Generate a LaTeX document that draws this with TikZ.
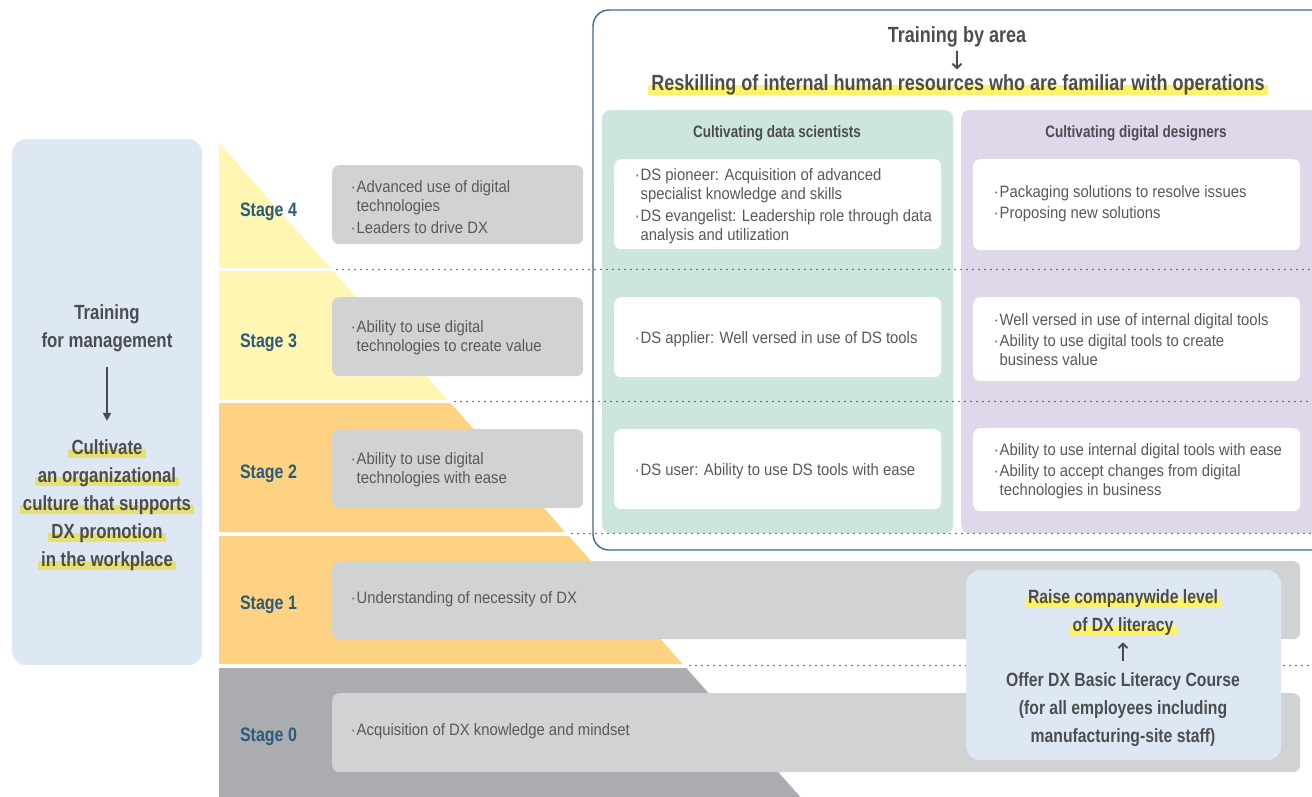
\documentclass[tikz,border=0pt]{standalone}
\usepackage{fontspec}
\setmainfont[FakeStretch=0.82]{Liberation Sans}
\newfontfamily\bodyfont[FakeStretch=0.9]{Liberation Sans}
\newfontfamily\arrfont{DejaVu Sans}
\usetikzlibrary{arrows.meta}
\definecolor{leftblue}{HTML}{DDE8F4}
\definecolor{pyel}{HTML}{FFF6B4}
\definecolor{porg}{HTML}{FDD283}
\definecolor{pgray}{HTML}{ABACB0}
\definecolor{boxgray}{HTML}{D1D2D4}
\definecolor{stageblue}{HTML}{2A5B7C}
\definecolor{darktxt}{HTML}{4D4D4F}
\definecolor{bodytxt}{HTML}{595959}
\definecolor{teal}{HTML}{CCE6DC}
\definecolor{purp}{HTML}{DFD7EA}
\definecolor{framec}{HTML}{3F6787}
\definecolor{dotgray}{HTML}{5A5A5A}
\definecolor{hly}{HTML}{FFF26B}
\definecolor{hll}{HTML}{E6E070}
\pgfdeclarelayer{hl}
\pgfdeclarelayer{top}
\pgfsetlayers{main,hl,top}
\newcommand\bu{\makebox[6.5pt][c]{·}}
\newcommand\ind{\hspace*{6.5pt}}
\begin{document}
\begin{tikzpicture}[x=1pt,y=-1pt,
  body/.style={font=\bodyfont\fontsize{16.5}{19}\selectfont, text=bodytxt, align=left, inner sep=0pt, anchor=west},
  gbox/.style={fill=boxgray, rounded corners=7pt, anchor=north west, inner sep=0pt},
  wbox/.style={fill=white, rounded corners=7pt, anchor=north west, inner sep=0pt, minimum width=327pt},
  stg/.style={font=\bfseries\fontsize{19.5}{21}\selectfont, text=stageblue},
  hd/.style={font=\bfseries\fontsize{16.5}{18}\selectfont, text=darktxt},
  big/.style={font=\bfseries\fontsize{20.5}{22}\selectfont, text=darktxt, inner sep=0pt, anchor=base},
  mid/.style={font=\bfseries\fontsize{19.2}{22}\selectfont, text=darktxt, inner sep=0pt, anchor=base},
  ttl/.style={font=\bfseries\fontsize{22}{24}\selectfont, text=darktxt, inner sep=0pt, anchor=base},
  arr/.style={font=\arrfont\fontsize{25}{26}\selectfont, text=darktxt, inner sep=0pt},
  dotline/.style={draw=dotgray, line width=1.7pt, dash pattern=on 0pt off 6pt, line cap=round},
  hlbar/.style={fill=hly},
  hlbarl/.style={fill=hll},
]
\useasboundingbox (0,0) rectangle (1312,796);
\clip (0,0) rectangle (1312,796);

% left box
\node[fill=leftblue, rounded corners=14pt, minimum width=190pt, minimum height=526pt, anchor=north west, inner sep=0pt] (leftbox) at (12,139) {};

% pyramid
\fill[pyel] (219,143) -- (219,268) -- (330.3,268) -- cycle;
\fill[pyel] (219,271) -- (219,400) -- (447.7,400) -- (332.9,271) -- cycle;
\fill[porg] (219,403) -- (219,532) -- (565.2,532) -- (450.4,403) -- cycle;
\fill[porg] (219,536) -- (219,664) -- (682.7,664) -- (568.8,536) -- cycle;
\fill[pgray] (219,668) -- (219,800) -- (803,800) -- (686.3,668) -- cycle;

% stage labels
\node[stg] (s4) at (268.5,212) {Stage 4};
\node[stg] (s3) at (268.5,343) {Stage 3};
\node[stg] (s2) at (268.5,474) {Stage 2};
\node[stg] (s1) at (268.5,605) {Stage 1};
\node[stg] (s0) at (268.5,737) {Stage 0};

% gray boxes
\node[gbox, minimum width=251pt, minimum height=79pt] (g4) at (332,165) {};
\node[gbox, minimum width=251pt, minimum height=79pt] (g3) at (332,297) {};
\node[gbox, minimum width=251pt, minimum height=79pt] (g2) at (332,429) {};
\node[gbox, minimum width=968pt, minimum height=78pt] (g1) at (332,561) {};
\node[gbox, minimum width=968pt, minimum height=79pt] (g0) at (332,693) {};

\node[body] (g4t) at ([xshift=18pt,yshift=-2pt]g4.west) {\bu Advanced use of digital\\ \ind technologies\\[3pt] \bu Leaders to drive DX};
\node[body] (g3t) at ([xshift=18pt,yshift=-1pt]g3.west) {\bu Ability to use digital\\ \ind technologies to create value};
\node[body] (g2t) at ([xshift=18pt,yshift=-1pt]g2.west) {\bu Ability to use digital\\ \ind technologies with ease};
\node[body] (g1t) at ([xshift=18pt,yshift=1pt]g1.west) {\bu Understanding of necessity of DX};
\node[body] (g0t) at ([xshift=18pt,yshift=1pt]g0.west) {\bu Acquisition of DX knowledge and mindset};

% frame
\draw[framec, line width=1.4pt, rounded corners=16pt] (593,10) rectangle (1340,550);

% columns
\node[fill=teal, rounded corners=8pt, minimum width=351pt, minimum height=423pt, anchor=north west, inner sep=0pt] (colA) at (602,110) {};
\node[fill=purp, rounded corners=8pt, minimum width=380pt, minimum height=423pt, anchor=north west, inner sep=0pt] (colB) at (961,110) {};
\node[hd] (hA) at (777,133) {Cultivating data scientists};
\node[hd] (hB) at (1136,133) {Cultivating digital designers};

% dotted lines
\draw[dotline] (337,269.5) -- (1312,269.5);
\draw[dotline] (455,401.5) -- (1312,401.5);
\draw[dotline] (572,533.5) -- (1312,533.5);
\draw[dotline] (690,665.5) -- (1312,665.5);

% white boxes
\node[wbox, minimum height=90pt] (a1) at (614,159) {};
\node[wbox, minimum height=80pt] (a2) at (614,297) {};
\node[wbox, minimum height=80pt] (a3) at (614,429) {};
\node[wbox, minimum height=91pt] (b1) at (973,159) {};
\node[wbox, minimum height=84pt] (b2) at (973,297) {};
\node[wbox, minimum height=83pt] (b3) at (973,428) {};

\node[body] (a1t) at ([xshift=20pt,yshift=-2pt]a1.west) {\bu DS pioneer: Acquisition of advanced\\ \ind specialist knowledge and skills\\[3pt] \bu DS evangelist: Leadership role through data\\ \ind analysis and utilization};
\node[body] (a2t) at ([xshift=20pt,yshift=-2pt]a2.west) {\bu DS applier: Well versed in use of DS tools};
\node[body] (a3t) at ([xshift=20pt,yshift=-2pt]a3.west) {\bu DS user: Ability to use DS tools with ease};
\node[body] (b1t) at ([xshift=20pt,yshift=1pt]b1.west) {\bu Packaging solutions to resolve issues\\[2pt] \bu Proposing new solutions};
\node[body] (b2t) at ([xshift=20pt,yshift=0pt]b2.west) {\bu Well versed in use of internal digital tools\\[2pt] \bu Ability to use digital tools to create\\ \ind business value};
\node[body] (b3t) at ([xshift=20pt,yshift=-2pt]b3.west) {\bu Ability to use internal digital tools with ease\\[2pt] \bu Ability to accept changes from digital\\ \ind technologies in business};

% blue box bottom right
\node[fill=leftblue, rounded corners=14pt, minimum width=315pt, minimum height=190pt, anchor=north west, inner sep=0pt] (bluebox) at (966,570) {};

% ---- highlighted texts (top layer) ----
\begin{pgfonlayer}{top}
\node[ttl] (t1) at (957,42) {Training by area};
\node[arr] (t2) at (957,60) {↓};
\node[ttl] (t3) at (958,90) {Reskilling of internal human resources who are familiar with operations};

\node[big] (m1) at (107,319) {Training};
\node[big] (m2) at (107,347) {for management};
\node[big] (c1) at (107,454) {Cultivate};
\node[big] (c2) at (107,482) {an organizational};
\node[big] (c3) at (107,510) {culture that supports};
\node[big] (c4) at (107,538) {DX promotion};
\node[big] (c5) at (107,566) {in the workplace};

\node[mid] (r1) at (1123,603) {Raise companywide level};
\node[mid] (r2) at (1123,631) {of DX literacy};
\node[arr] (r3) at (1123,652) {↑};
\node[mid] (r4) at (1123,686) {Offer DX Basic Literacy Course};
\node[mid] (r5) at (1123,714) {(for all employees including};
\node[mid] (r6) at (1123,742) {manufacturing-site staff)};
\end{pgfonlayer}

\draw[darktxt, line width=1.5pt, -{Triangle[length=8pt,width=8pt]}, shorten <=15pt, shorten >=18pt] (m2.south) -- (c1.north);

\begin{pgfonlayer}{hl}
\foreach \n in {t3,r1,r2}{
  \fill[hlbar] ([xshift=-3pt,yshift=-5pt]\n.base west) rectangle ([xshift=3pt,yshift=5pt]\n.base east);
}
\foreach \n in {c1,c2,c3,c4,c5}{
  \fill[hlbarl] ([xshift=-3pt,yshift=-4pt]\n.base west) rectangle ([xshift=3pt,yshift=5pt]\n.base east);
}
\end{pgfonlayer}
\end{tikzpicture}
\end{document}
